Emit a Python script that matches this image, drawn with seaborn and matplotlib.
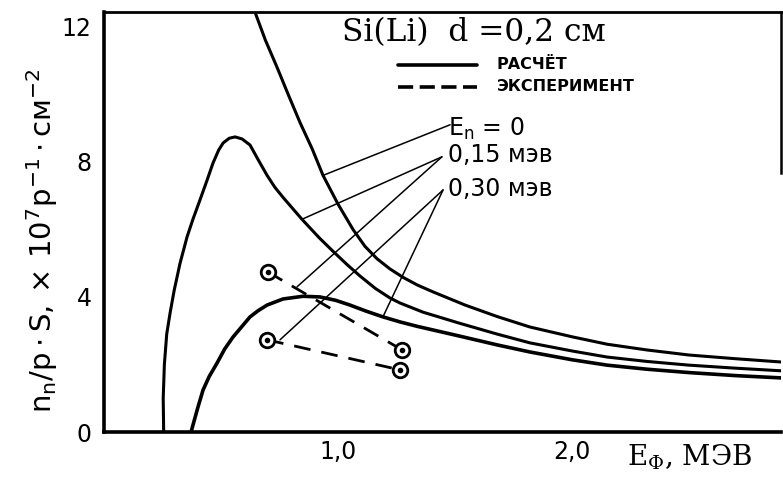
import matplotlib
matplotlib.use("Agg")
import matplotlib.pyplot as plt
import numpy as np
import pandas as pd
import seaborn as sns

# ---- data ----
# calculated curves (solid)
e_calc_0 = [0.63, 0.645, 0.69, 0.739, 0.79, 0.838, 0.89, 0.936, 1.00, 1.064, 1.115, 1.167,
            1.222, 1.278, 1.34, 1.406, 1.543, 1.68, 1.82, 2.0, 2.15, 2.32, 2.50, 2.70, 2.90]
y_calc_0 = [12.9, 12.44, 11.6, 10.81, 9.95, 9.16, 8.38, 7.60, 6.75, 6.0, 5.50, 5.13,
            4.83, 4.58, 4.35, 4.15, 3.76, 3.42, 3.11, 2.82, 2.60, 2.43, 2.28, 2.17, 2.07]

e_calc_15 = [0.255, 0.253, 0.258, 0.268, 0.283, 0.30, 0.325, 0.355, 0.38, 0.41, 0.44, 0.466,
             0.49, 0.509, 0.535, 0.56, 0.59, 0.624, 0.66, 0.697, 0.73, 0.765, 0.846, 0.92,
             0.979, 1.04, 1.094, 1.16, 1.222, 1.265, 1.363, 1.52, 1.68, 1.82, 2.0, 2.15,
             2.32, 2.50, 2.70, 2.90]
y_calc_15 = [0.0, 1.0, 2.0, 2.9, 3.55, 4.2, 5.0, 5.78, 6.3, 6.87, 7.45, 7.97,
             8.35, 8.56, 8.70, 8.74, 8.68, 8.50, 8.05, 7.60, 7.25, 6.95, 6.30, 5.75,
             5.35, 4.95, 4.62, 4.25, 3.97, 3.82, 3.55, 3.22, 2.90, 2.64, 2.40, 2.22,
             2.09, 1.98, 1.89, 1.81]

e_calc_30 = [0.372, 0.40, 0.423, 0.45, 0.483, 0.515, 0.551, 0.59, 0.624, 0.66, 0.697, 0.765,
             0.85, 0.923, 0.99, 1.051, 1.12, 1.192, 1.265, 1.338, 1.52, 1.68, 1.82, 2.0,
             2.15, 2.32, 2.50, 2.70, 2.90]
y_calc_30 = [0.0, 0.7, 1.24, 1.65, 2.04, 2.45, 2.81, 3.13, 3.41, 3.60, 3.76, 3.94,
             4.02, 4.0, 3.9, 3.76, 3.58, 3.41, 3.26, 3.13, 2.84, 2.58, 2.37, 2.14,
             1.98, 1.86, 1.76, 1.67, 1.60]

# experiment (dashed)
e_exp_15 = [0.70, 1.274]
y_exp_15 = [4.74, 2.43]
e_exp_30 = [0.697, 1.265]
y_exp_30 = [2.73, 1.84]

# leader lines: label anchor -> point on curve
lead_from = [(1.479, 9.10), (1.444, 8.15), (1.444, 8.15), (1.449, 7.17), (1.449, 7.17)]
lead_to = [(0.936, 7.60), (0.846, 6.30), (0.825, 4.30), (0.752, 2.73), (1.192, 3.41)]

x_ticks = [1.0, 2.0]
x_tick_labels = ["1,0", "2,0"]
y_ticks = [0, 4, 8, 12]
y_tick_labels = ["0", "4", "8", "12"]

curve_labels = ["E$_n$ = 0", "0,15 мэв", "0,30 мэв"]
title_text = "Si(Li)  d =0,2 см"
legend_texts = ["РАСЧЁТ", "ЭКСПЕРИМЕНТ"]
x_label = "E$_{\\Phi}$, МЭВ"
y_label = "$n_n/p\\cdot S,\\times\\,10^{7}p^{-1}\\cdot$см$^{-2}$"

# ---- build tables ----
calc = pd.concat([
    pd.DataFrame({"E": e_calc_0, "v": y_calc_0, "s": "0"}),
    pd.DataFrame({"E": e_calc_15, "v": y_calc_15, "s": "15"}),
    pd.DataFrame({"E": e_calc_30, "v": y_calc_30, "s": "30"}),
], ignore_index=True)
exp = pd.concat([
    pd.DataFrame({"E": e_exp_15, "v": y_exp_15, "s": "15"}),
    pd.DataFrame({"E": e_exp_30, "v": y_exp_30, "s": "30"}),
], ignore_index=True)

sns.set_theme(style="white")
plt.rcParams["font.family"] = ["DejaVu Sans"]
plt.rcParams["mathtext.fontset"] = "dejavusans"
plt.rcParams["mathtext.default"] = "regular"
plt.rcParams["lines.solid_joinstyle"] = "round"
plt.rcParams["lines.solid_capstyle"] = "round"

fig = plt.figure(figsize=(7.83, 4.82), dpi=100)
ax = fig.add_axes([104 / 783, 50 / 482, 677 / 783, 420 / 482])

for key, lw in [("0", 2.2), ("15", 2.2), ("30", 2.6)]:
    sns.lineplot(data=calc[calc.s == key], x="E", y="v", sort=False, estimator=None,
                 color="black", lw=lw, ax=ax, legend=False)

for key in ["15", "30"]:
    sns.lineplot(data=exp[exp.s == key], x="E", y="v", sort=False, estimator=None,
                 color="black", lw=2.0, ax=ax, legend=False,
                 linestyle=(0, (6, 4)))
sns.scatterplot(data=exp, x="E", y="v", marker="o", s=110, facecolor="white",
                edgecolor="black", linewidth=2, ax=ax, zorder=5, legend=False)
sns.scatterplot(data=exp, x="E", y="v", marker="o", s=16, color="black",
                linewidth=0, ax=ax, zorder=6, legend=False)

for (x0, y0), (x1, y1) in zip(lead_from, lead_to):
    ax.plot([x0, x1], [y0, y1], color="black", lw=1.1)

ax.set_xlim(0, 2.893)
ax.set_ylim(0, 12.44)
ax.set_xticks(x_ticks)
ax.set_xticklabels(x_tick_labels, fontsize=17)
ax.set_yticks(y_ticks)
ax.set_yticklabels(y_tick_labels, fontsize=17)
ax.tick_params(axis="x", direction="in", length=6, width=2, pad=6, colors="black")
ax.tick_params(axis="y", direction="out", length=6, width=2, pad=3, colors="black")
ax.set_xlabel("")
ax.set_ylabel("")

for side in ["left", "bottom"]:
    ax.spines[side].set_linewidth(2.6)
    ax.spines[side].set_color("black")
ax.spines["top"].set_linewidth(2.0)
ax.spines["top"].set_color("black")
ax.spines["right"].set_linewidth(1.8)
ax.spines["right"].set_color("black")
ax.spines["right"].set_bounds(7.67, 12.44)

# y label
fig.text(42 / 783, 1 - 241 / 482, y_label, rotation=90, ha="center", va="center",
         fontsize=21, color="black")
# x label
ax.text(0.773, -0.06, x_label, transform=ax.transAxes, ha="left", va="center",
        fontsize=20, family=["DejaVu Serif"], color="black")

# title
ax.text(0.352, 0.95, title_text, transform=ax.transAxes, ha="left", va="center",
        fontsize=22.5, family=["DejaVu Serif"], color="black")

# legend
ax.plot([0.434, 0.551], [0.874, 0.874], transform=ax.transAxes, color="black", lw=2.6)
ax.plot([0.434, 0.551], [0.821, 0.821], transform=ax.transAxes, color="black", lw=2.6,
        linestyle=(0, (4.2, 1.8)))
ax.text(0.580, 0.876, legend_texts[0], transform=ax.transAxes, ha="left", va="center",
        fontsize=11.5, fontweight="bold", color="black")
ax.text(0.580, 0.823, legend_texts[1], transform=ax.transAxes, ha="left", va="center",
        fontsize=11.5, fontweight="bold", color="black")

# curve labels
for txt, yy in zip(curve_labels, [0.721, 0.660, 0.579]):
    ax.text(0.508, yy, txt, transform=ax.transAxes, ha="left", va="center",
            fontsize=17, color="black")

fig.savefig("out.png", dpi=100)
